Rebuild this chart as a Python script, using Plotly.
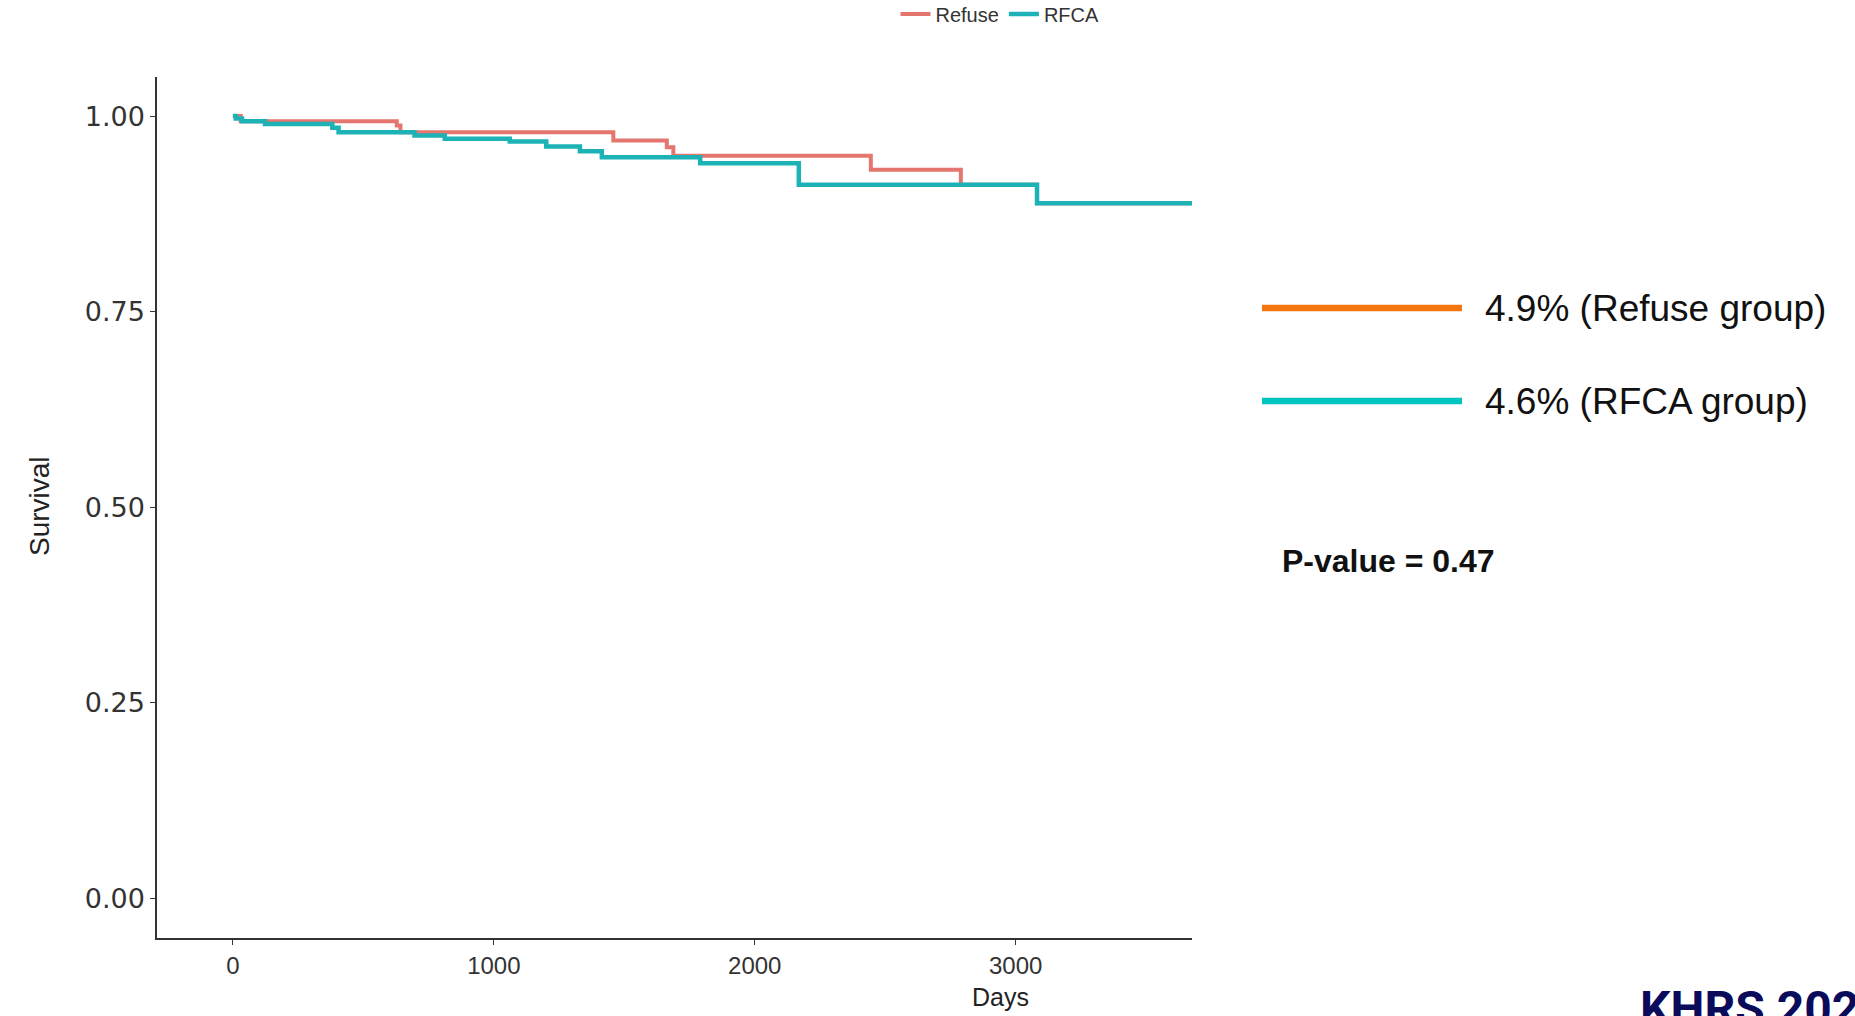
import plotly.graph_objects as go

# ---- data ----
refuse_days = [0, 30, 628, 642, 1458, 1663, 1688, 2445, 2790, 3082, 3676]
refuse_surv = [1.000, 0.9935, 0.9880, 0.9795, 0.9689, 0.9603, 0.9492, 0.9313, 0.9122, 0.8886, 0.8886]

rfca_days = [0, 11, 35, 123, 381, 405, 696, 812, 1061, 1201, 1330, 1414, 1791, 2169, 3082, 3676]
rfca_surv = [1.000, 0.9970, 0.9933, 0.9900, 0.9850, 0.9795, 0.9753, 0.9710, 0.9676, 0.9612, 0.9552, 0.9475, 0.9398, 0.9122, 0.8886, 0.8886]

x_ticks = [0, 1000, 2000, 3000]
y_ticks = [0.00, 0.25, 0.50, 0.75, 1.00]
y_tick_labels = ["0.00", "0.25", "0.50", "0.75", "1.00"]

group_labels = ["4.9% (Refuse group)", "4.6% (RFCA group)"]
p_value_text = "P-value = 0.47"

RED = "#E4766F"
TEAL = "#1DB2B6"

W, H = 1855, 1016
L, R, T, B = 157, 1855 - 1192, 77, 1016 - 938
PW, PH = W - L - R, H - T - B


def px_x(x):
    return (x - L) / PW


def px_y(y):
    return (H - B - y) / PH


fig = go.Figure()
fig.add_trace(go.Scatter(x=refuse_days, y=refuse_surv, mode="lines", name="Refuse",
                         line=dict(color=RED, width=4, shape="hv")))
fig.add_trace(go.Scatter(x=rfca_days, y=rfca_surv, mode="lines", name="RFCA",
                         line=dict(color=TEAL, width=4.5, shape="hv")))

fig.update_layout(
    width=W, height=H,
    margin=dict(l=L, r=R, t=T, b=B, autoexpand=False),
    paper_bgcolor="white", plot_bgcolor="white",
    font=dict(family="Arial, Liberation Sans, sans-serif", color="#4D4D4D"),
    showlegend=True,
    legend=dict(orientation="h", x=px_x(1000), xanchor="center", y=px_y(14), yanchor="middle",
                font=dict(size=20, color="#333333"), itemwidth=30, bgcolor="rgba(0,0,0,0)"),
    xaxis=dict(range=[-291, 3676], tickvals=x_ticks, ticktext=[str(v) for v in x_ticks],
               showgrid=False, zeroline=False, showline=True, linecolor="#333333", linewidth=1.5,
               ticks="outside", ticklen=5, tickcolor="#333333",
               tickfont=dict(size=24, color="#333333", family="Liberation Sans Narrow, Arial, sans-serif")),
    yaxis=dict(range=[-0.051, 1.05], tickvals=y_ticks, ticktext=y_tick_labels,
               showgrid=False, zeroline=False, showline=True, linecolor="#333333", linewidth=1.5,
               ticks="outside", ticklen=5, tickcolor="#333333",
               tickfont=dict(size=27, color="#333333", family="DejaVu Sans, Arial, sans-serif")),
)

# axis titles
fig.add_annotation(text="Days", xref="paper", yref="paper", x=px_x(1000), y=px_y(997),
                   xanchor="center", yanchor="middle", showarrow=False,
                   font=dict(size=25, color="#222222", family="Liberation Sans Narrow, Arial, sans-serif"))
fig.add_annotation(text="Survival", xref="paper", yref="paper", x=px_x(39), y=px_y(506),
                   xanchor="center", yanchor="middle", showarrow=False, textangle=-90,
                   font=dict(size=28, color="#222222", family="Liberation Sans Narrow, Arial, sans-serif"))

# right-side annotation block
line_specs = [("#F47611", 308), ("#00C4C0", 401)]
for (col, yy), lab in zip(line_specs, group_labels):
    fig.add_shape(type="line", xref="paper", yref="paper",
                  x0=px_x(1262), x1=px_x(1462), y0=px_y(yy), y1=px_y(yy),
                  line=dict(color=col, width=6.5))
    fig.add_annotation(text=lab, xref="paper", yref="paper", x=px_x(1483), y=px_y(yy),
                       xanchor="left", yanchor="middle", showarrow=False,
                       font=dict(size=37, color="#111111", family="Arial, Liberation Sans, sans-serif"))

fig.add_annotation(text="<b>" + p_value_text + "</b>", xref="paper", yref="paper",
                   x=px_x(1280), y=px_y(561), xanchor="left", yanchor="middle", showarrow=False,
                   font=dict(size=32, color="#111111", family="Arial, Liberation Sans, sans-serif"))

# partially visible logo at the bottom right
fig.add_annotation(text="<b>KHRS 2023</b>", xref="paper", yref="paper",
                   x=px_x(1638), y=px_y(978), xanchor="left", yanchor="top", showarrow=False,
                   font=dict(size=48, color="#0B0B5C", family="Liberation Sans Narrow, Roboto, Arial, sans-serif"))

fig.write_html("out.html")
